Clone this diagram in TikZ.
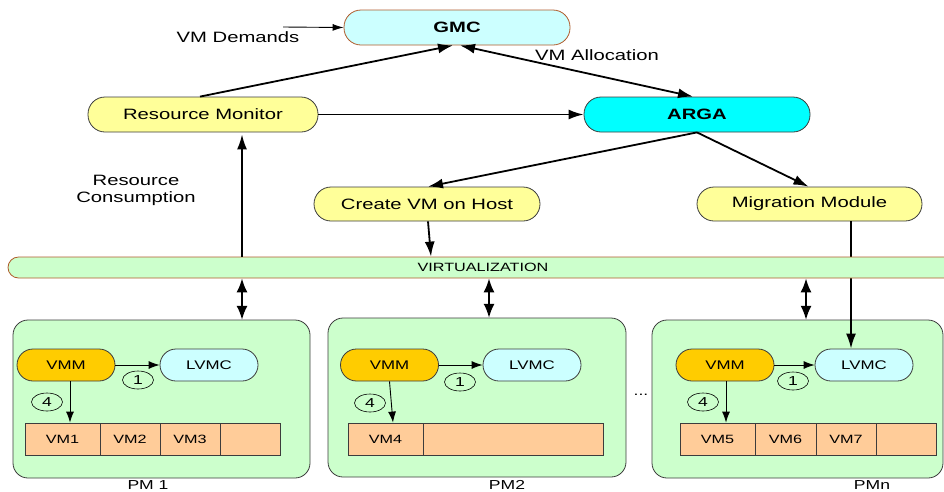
\documentclass[tikz,border=0pt]{standalone}
\usepackage{fontspec}
\setmainfont[FakeStretch=1.35]{Liberation Sans}
\usetikzlibrary{arrows.meta,shapes.geometric}
\definecolor{lcyan}{RGB}{204,255,255}
\definecolor{acyan}{RGB}{0,255,255}
\definecolor{lyel}{RGB}{255,255,153}
\definecolor{lgreen}{RGB}{204,255,204}
\definecolor{vmmor}{RGB}{255,204,0}
\definecolor{peach}{RGB}{255,204,153}
\definecolor{brownb}{RGB}{176,92,44}
\definecolor{grayb}{RGB}{60,60,60}
\tikzset{
  big/.style={font=\fontsize{15}{18}\selectfont},
  ctrl/.style={draw=grayb, line width=0.8pt, rounded corners=17pt, minimum height=35pt, inner sep=0pt, big},
  pmbox/.style={draw=grayb, fill=lgreen, line width=0.8pt, rounded corners=15pt},
  inner/.style={draw=grayb, line width=0.8pt, rounded corners=16pt, minimum width=98pt, minimum height=32pt, inner sep=0pt, font=\fontsize{12.5}{14}\selectfont},
  cell/.style={draw=grayb, fill=peach, line width=0.8pt, minimum height=32pt, inner sep=0pt, font=\fontsize{12}{14}\selectfont},
  num/.style={draw=black, ellipse, line width=0.6pt, minimum width=31pt, minimum height=18pt, inner sep=0pt, font=\fontsize{13}{14}\selectfont},
  mainarr/.style={line width=1.8pt, -{Latex[length=15pt,width=10pt]}},
  dblarr/.style={line width=1.8pt, {Latex[length=14pt,width=11pt]}-{Latex[length=14pt,width=11pt]}},
  thinarr/.style={line width=0.9pt, -{Latex[length=11pt,width=8pt]}},
  lbl/.style={big, inner sep=0pt},
  pmlbl/.style={font=\fontsize{13}{14}\selectfont, inner sep=0pt}
}
\begin{document}
\begin{tikzpicture}[x=1pt,y=-1pt]
\useasboundingbox (0,0) rectangle (944,491);

% top controllers
\node[ctrl, draw=brownb, fill=lcyan, minimum width=226pt] (gmc) at (457,27.5) {\bfseries GMC};
\node[ctrl, fill=lyel, minimum width=230pt] (rm) at (203,114.5) {Resource Monitor};
\node[ctrl, fill=acyan, minimum width=226pt] (arga) at (697,114.5) {\bfseries ARGA};
\node[ctrl, fill=lyel, minimum width=226pt, minimum height=34pt] (cvm) at (427,204) {Create VM on Host};
\node[ctrl, fill=lyel, minimum width=225pt, minimum height=34pt] (mig) at (809.5,204) {Migration Module};

% labels
\node[lbl] (vmd) at (238,37) {VM Demands};
\coordinate (vmdstart) at (283,27);
\node[lbl] (vma) at (597,55) {VM Allocation};
\node[lbl, align=center, font=\fontsize{15}{17}\selectfont] (rc) at (136,190) {Resource\\Consumption};

% PM boxes
\draw[pmbox] (13,320) rectangle (310,478);
\node[inner sep=0pt, minimum width=297pt, minimum height=158pt] (pm1) at (161.5,399) {};
\draw[pmbox] (328,318) rectangle (626,477);
\node[inner sep=0pt, minimum width=298pt, minimum height=159pt] (pm2) at (477,397.5) {};
\draw[pmbox] (652,320) rectangle (943,478);
\node[inner sep=0pt, minimum width=291pt, minimum height=158pt] (pmn) at (797.5,399) {};

\node[pmlbl] (pm1l) at (148,485) {PM 1};
\node[pmlbl] (pm2l) at (507,485) {PM2};
\node[pmlbl] (pmnl) at (872,485) {PMn};
\node[pmlbl] (dots) at (641,395) {...};

% PM1 internals
\node[inner, fill=vmmor] (vmm1) at (66,365) {VMM};
\node[inner, fill=lcyan] (lvmc1) at (209,365) {LVMC};
\node[cell, minimum width=75pt] (vm1) at (62.5,439) {VM1};
\node[cell, minimum width=60pt] (vm2) at (130,439) {VM2};
\node[cell, minimum width=60pt] (vm3) at (190,439) {VM3};
\node[cell, minimum width=60pt] (vm1e) at (250,439) {};
\node[num] (n11) at (138,380) {1};
\node[num] (n41) at (47,402) {4};
\draw[thinarr] (vmm1.east) -- (lvmc1.west);
\draw[thinarr] ([xshift=4pt]vmm1.south) -- ([xshift=7.5pt]vm1.north);

% PM2 internals
\node[inner, fill=vmmor] (vmm2) at (389.5,365) {VMM};
\node[inner, fill=lcyan] (lvmc2) at (532,365) {LVMC};
\node[cell, minimum width=75pt] (vm4) at (385.5,439) {VM4};
\node[cell, minimum width=180pt] (vm4e) at (513,439) {};
\node[num] (n12) at (460,382) {1};
\node[num] (n42) at (370,403) {4};
\draw[thinarr] (vmm2.east) -- (lvmc2.west);
\draw[thinarr] (vmm2.south) -- ([xshift=7.5pt]vm4.north);

% PMn internals
\node[inner, fill=vmmor] (vmm3) at (725,365) {VMM};
\node[inner, fill=lcyan] (lvmc3) at (864,365) {LVMC};
\node[cell, minimum width=75pt] (vm5) at (717.5,439) {VM5};
\node[cell, minimum width=61pt] (vm6) at (785.5,439) {VM6};
\node[cell, minimum width=60pt] (vm7) at (846,439) {VM7};
\node[cell, minimum width=60pt] (vm7e) at (906,439) {};
\node[num] (n13) at (793,381) {1};
\node[num] (n43) at (703,402) {4};
\draw[thinarr] (vmm3.east) -- (lvmc3.west);
\draw[thinarr] ([xshift=1pt]vmm3.south) -- ([xshift=8.5pt]vm5.north);

% migration line (under the virtualization bar)
\draw[mainarr] ([xshift=41.5pt]mig.south) -- ([xshift=-13pt]lvmc3.north);

% virtualization bar
\node[draw=brownb, fill=lgreen, line width=0.8pt, rounded corners=10.5pt, minimum width=950pt, minimum height=21pt, inner sep=0pt, font=\fontsize{12}{13}\selectfont] (virt) at (483,267.5) {VIRTUALIZATION};

% column coordinates
\coordinate (c1) at (242,0);
\coordinate (c2) at (489,0);
\coordinate (c3) at (806,0);
\coordinate (c4) at (431,0);

% connectors
\draw[line width=0.9pt, -{Latex[length=11pt,width=7pt]}] (vmdstart) -- (gmc.west);
\draw[mainarr] ([xshift=-3pt]rm.north) -- ([xshift=-4pt]gmc.south);
\draw[line width=1.8pt, {Latex[length=15pt,width=10pt]}-{Latex[length=15pt,width=10pt]}] ([xshift=3pt]gmc.south) -- ([xshift=-4pt]arga.north);
\draw[mainarr] (rm.east) -- (arga.west);
\draw[mainarr] (arga.south) -- ([xshift=1pt]cvm.north);
\draw[mainarr] (arga.south) -- ([xshift=-1pt]mig.north);
\draw[mainarr] (virt.north -| c1) -- ([yshift=-2pt]rm.south -| c1);
\draw[mainarr] ([xshift=1pt]cvm.south) -- (virt.north -| c4);

\draw[dblarr] (virt.south -| c1) -- (pm1.north -| c1);
\draw[dblarr] (virt.south -| c2) -- (pm2.north -| c2);
\draw[dblarr] (virt.south -| c3) -- (pmn.north -| c3);
\end{tikzpicture}
\end{document}
